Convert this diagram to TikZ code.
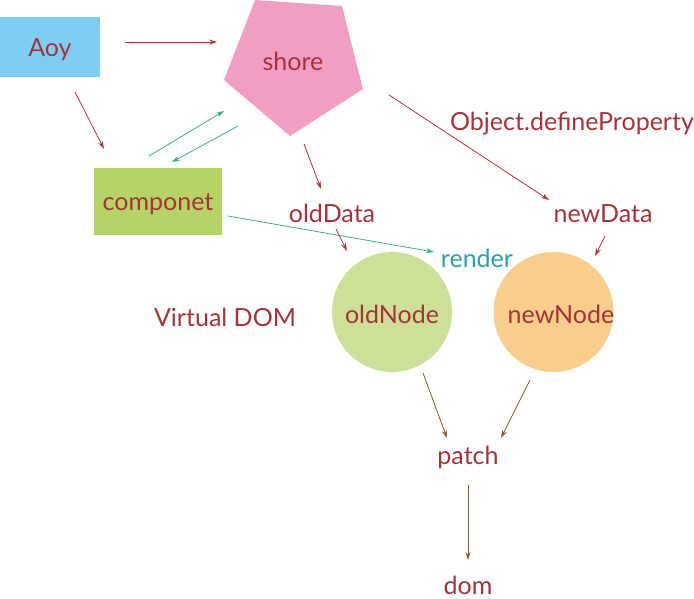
\documentclass[tikz,border=0pt]{standalone}
\usepackage{fontspec}
\setmainfont{Lato}
\usetikzlibrary{arrows.meta}
\definecolor{txtred}{HTML}{A8323A}
\definecolor{arrred}{HTML}{B0343A}
\definecolor{arrgreen}{HTML}{3AAE8C}
\definecolor{rendercol}{HTML}{2AA0A8}
\definecolor{arrbrown}{HTML}{8B5A2B}
\definecolor{aoyfill}{HTML}{7ECEF4}
\definecolor{compfill}{HTML}{B5D465}
\definecolor{shorefill}{HTML}{F19EC2}
\definecolor{oldfill}{HTML}{CDE097}
\definecolor{newfill}{HTML}{F9CD8A}
\begin{document}
\begin{tikzpicture}[x=1pt,y=-1pt,
  lbl/.style={font=\fontsize{25}{30}\selectfont, text=txtred, inner sep=0pt, anchor=base},
  boxnode/.style={draw=none, inner sep=0pt, font=\fontsize{25}{30}\selectfont, text=txtred, text height=18pt, text depth=0pt},
  circnode/.style={circle, draw=none, minimum size=120pt, inner sep=0pt},
  tip/.style={-{Stealth[length=8pt,width=5pt]}, line width=0.8pt},
  redarr/.style={tip, draw=arrred},
  greenarr/.style={tip, draw=arrgreen},
  brownarr/.style={tip, draw=arrbrown}]
\useasboundingbox (0,0) rectangle (694,598);
% nodes
\node[boxnode, fill=aoyfill, minimum width=100pt, minimum height=60pt] (aoy) at (50,47) {Aoy};
\coordinate (p1) at (255,0);
\coordinate (p2) at (342,6);
\coordinate (p3) at (363,89);
\coordinate (p4) at (290,136);
\coordinate (p5) at (224,80);
\fill[shorefill] (p1) -- (p2) -- (p3) -- (p4) -- (p5) -- cycle;
\node[lbl] (shore) at (293,70) {shore};
\node[boxnode, fill=compfill, minimum width=128pt, minimum height=67pt] (comp) at (158,201.5) {componet};
\node[lbl] (olddata) at (332,222) {oldData};
\node[lbl] (newdata) at (603,222) {newData};
\node[lbl] (obj) at (572,130) {Object.defineProperty};
\node[lbl, text=rendercol] (render) at (477,267) {render};
\node[lbl] (vdom) at (225,326) {Virtual DOM};
\node[circnode, fill=oldfill] (oldnode) at (392,312) {};
\node[lbl] (oldtxt) at (392,323) {oldNode};
\node[circnode, fill=newfill] (newnode) at (553.5,312) {};
\node[lbl] (newtxt) at (561,323) {newNode};
\node[lbl] (patch) at (468,464) {patch};
\node[lbl] (dom) at (468,594) {dom};
% connectors
\draw[redarr] ([shift={(75,-5)}]aoy.center) -- ([shift={(-76,-28)}]shore.base);
\draw[redarr] ([shift={(25,45)}]aoy.center) -- ([shift={(-54,-52.5)}]comp.center);
\draw[greenarr] ([shift={(-9,-45.5)}]comp.center) -- ([shift={(-69,41)}]shore.base);
\draw[greenarr] ([shift={(-55,56)}]shore.base) -- ([shift={(14,-39.5)}]comp.center);
\draw[greenarr] ([shift={(70,14.5)}]comp.center) -- ([shift={(-43,-15)}]render.base);
\draw[redarr] ([shift={(11,74)}]shore.base) -- ([shift={(-11,-33)}]olddata.base);
\draw[redarr] ([shift={(4,7)}]olddata.base) -- ([shift={(-45,-61)}]oldnode.center);
\draw[redarr] ([shift={(96,25)}]shore.base) -- ([shift={(-54,-22)}]newdata.base);
\draw[redarr] ([shift={(2,14)}]newdata.base) -- ([shift={(41.5,-56)}]newnode.center);
\draw[brownarr] ([shift={(31,61)}]oldnode.center) -- ([shift={(-21,-26)}]patch.base);
\draw[brownarr] ([shift={(-23.5,68)}]newnode.center) -- ([shift={(33,-26)}]patch.base);
\draw[brownarr] ([shift={(0,21)}]patch.base) -- ([shift={(0,-34)}]dom.base);
\end{tikzpicture}
\end{document}
